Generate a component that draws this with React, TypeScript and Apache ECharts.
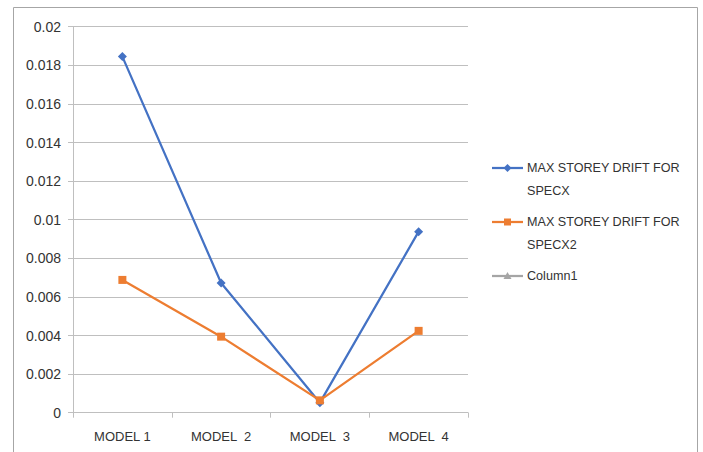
import React, { useEffect, useRef } from "react";
import * as echarts from "echarts";

// Category labels along the x axis
const models = ["MODEL 1", "MODEL  2", "MODEL  3", "MODEL  4"];

// Maximum storey drift values per model
const driftSpecX = [0.01845, 0.00672, 0.00052, 0.00938];
const driftSpecX2 = [0.00688, 0.00394, 0.00064, 0.00424];
const column1: (number | null)[] = [null, null, null, null];

const seriesNames = ["MAX STOREY DRIFT FOR SPECX", "MAX STOREY DRIFT FOR SPECX2", "Column1"];
const legendLines = [
  ["MAX STOREY DRIFT FOR", "SPECX"],
  ["MAX STOREY DRIFT FOR", "SPECX2"],
  ["Column1"],
];

const yMin = 0;
const yMax = 0.02;
const yStep = 0.002;

const BLUE = "#4472C4";
const ORANGE = "#ED7D31";
const GRAY = "#A5A5A5";
const TEXT = "#333333";
const FONT = "Liberation Sans, Arial, sans-serif";

export default function App() {
  const ref = useRef<HTMLDivElement>(null);

  useEffect(() => {
    if (!ref.current) return;
    const chart = echarts.init(ref.current, undefined, { renderer: "svg" });

    const colors = [BLUE, ORANGE, GRAY];
    const legendTops = [168, 222, 276];
    const legendGraphics: any[] = [];
    legendLines.forEach((lines, i) => {
      const cy = legendTops[i];
      const c = colors[i];
      legendGraphics.push({
        type: "line",
        shape: { x1: 492, y1: cy, x2: 523, y2: cy },
        style: { stroke: c, lineWidth: 2.25 },
      });
      if (i === 0) {
        legendGraphics.push({
          type: "polygon",
          shape: { points: [[507.5, cy - 4], [511.5, cy], [507.5, cy + 4], [503.5, cy]] },
          style: { fill: c },
        });
      } else if (i === 1) {
        legendGraphics.push({
          type: "rect",
          shape: { x: 504, y: cy - 3.5, width: 7, height: 7 },
          style: { fill: c },
        });
      } else {
        legendGraphics.push({
          type: "polygon",
          shape: { points: [[507.5, cy - 4], [511.5, cy + 3], [503.5, cy + 3]] },
          style: { fill: c },
        });
      }
      legendGraphics.push({
        type: "text",
        x: 527,
        y: cy - 11,
        style: {
          text: lines.join("\n"),
          font: `12.6px ${FONT}`,
          fill: TEXT,
          lineHeight: 22.5,
          verticalAlign: "top",
        },
      });
    });

    chart.setOption({
      animation: false,
      backgroundColor: "#ffffff",
      grid: { left: 73, right: 235, top: 26.7, bottom: 39.3, containLabel: false },
      xAxis: {
        type: "category",
        data: models,
        boundaryGap: true,
        axisLine: { lineStyle: { color: "#bfbfbf", width: 1 } },
        axisTick: { show: true, length: 5, lineStyle: { color: "#bfbfbf" } },
        axisLabel: { color: TEXT, fontFamily: FONT, fontSize: 13, margin: 17 },
      },
      yAxis: {
        type: "value",
        min: yMin,
        max: yMax,
        interval: yStep,
        axisLine: { show: true, lineStyle: { color: "#bfbfbf", width: 1 } },
        axisTick: { show: true, length: 5, lineStyle: { color: "#bfbfbf" } },
        axisLabel: { color: TEXT, fontFamily: FONT, fontSize: 14, margin: 12 },
        splitLine: { show: true, lineStyle: { color: "#bfbfbf", width: 1 } },
      },
      series: [
        {
          name: seriesNames[0],
          type: "line",
          data: driftSpecX,
          symbol: "diamond",
          symbolSize: 9,
          itemStyle: { color: BLUE },
          lineStyle: { color: BLUE, width: 2.25 },
          z: 2,
        },
        {
          name: seriesNames[1],
          type: "line",
          data: driftSpecX2,
          symbol: "rect",
          symbolSize: 8,
          itemStyle: { color: ORANGE },
          lineStyle: { color: ORANGE, width: 2.25 },
          z: 3,
        },
        {
          name: seriesNames[2],
          type: "line",
          data: column1,
          symbol: "triangle",
          symbolSize: 8,
          itemStyle: { color: GRAY },
          lineStyle: { color: GRAY, width: 2.25 },
        },
      ],
      graphic: [
        {
          type: "polyline",
          shape: { points: [[13.5, 460], [13.5, 7.5], [697.5, 7.5], [697.5, 460]] },
          style: { stroke: "#a6a6a6", lineWidth: 1, fill: "none" },
          silent: true,
        },
        ...legendGraphics,
      ],
    });

    return () => chart.dispose();
  }, []);

  return (
    <div
      ref={ref}
      style={{ position: "absolute", left: 0, top: 0, width: 703, height: 452, background: "#fff" }}
    />
  );
}
